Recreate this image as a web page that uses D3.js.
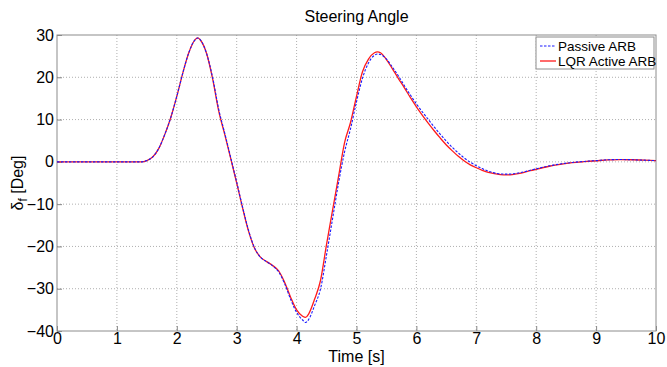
<!DOCTYPE html>
<html>
<head>
<meta charset="utf-8">
<script src="https://cdn.jsdelivr.net/npm/d3@7"></script>
<style>
  body { margin: 0; background: #fff; }
  text { font-family: "Liberation Sans", Arial, sans-serif; fill: #000; }
</style>
</head>
<body>
<svg id="chart"></svg>
<script>
// time samples [s]
var time = [0, 0.5, 1.0, 1.4, 1.5, 1.6, 1.7, 1.8, 1.9, 2.0, 2.1, 2.2, 2.3, 2.35, 2.4, 2.5,
    2.6, 2.7, 2.8, 2.9, 3.0, 3.1, 3.2, 3.3, 3.4, 3.5, 3.6, 3.7, 3.8, 3.9, 4.0, 4.1, 4.15,
    4.2, 4.3, 4.4, 4.5, 4.6, 4.7, 4.8, 4.9, 5.0, 5.1, 5.2, 5.3, 5.35, 5.4, 5.5, 5.6, 5.7,
    5.8, 5.9, 6.0, 6.1, 6.2, 6.3, 6.4, 6.5, 6.6, 6.7, 6.8, 6.9, 7.0, 7.1, 7.2, 7.3, 7.4,
    7.5, 7.6, 7.7, 7.8, 7.9, 8.0, 8.2, 8.4, 8.6, 8.8, 9.0, 9.2, 9.4, 9.6, 9.8, 10.0];

// steering angle [deg]
var passive = [0, 0, 0, 0, 0.3, 1.2, 3.2, 6.5, 10.5, 15.5, 21, 25.8, 28.8, 29.3, 28.7, 25.5,
    19.8, 12.4, 6.8, 1.0, -4.8, -10.8, -16.3, -20.4, -22.6, -23.6, -24.6, -26, -28.8, -32.5,
    -35.6, -37.4, -38, -37.3, -34, -30, -22, -13.5, -5, 2.3, 7.8, 14.2, 19.8, 23.4, 25.2,
    25.5, 25.4, 24.3, 22.4, 20.3, 18.0, 15.8, 13.7, 11.8, 10.0, 8.2, 6.5, 4.9, 3.4, 2.1,
    0.9, -0.1, -0.9, -1.6, -2.2, -2.6, -2.85, -2.9, -2.85, -2.65, -2.35, -2.0, -1.65, -1.0,
    -0.5, -0.15, 0.1, 0.3, 0.5, 0.55, 0.5, 0.4, 0.3];

var lqr = [0, 0, 0, 0, 0.3, 1.2, 3.2, 6.5, 10.5, 15.5, 21, 25.8, 28.8, 29.3, 28.7, 25.5,
    19.5, 12, 6.5, 0.8, -5, -11, -16.5, -20.5, -22.6, -23.6, -24.5, -25.8, -28.5, -32,
    -35, -36.5, -36.8, -36, -32.5, -28, -19.5, -11.5, -3.5, 4.5, 9.3, 15.5, 21.3, 24.3, 25.8,
    26, 25.8, 24.2, 22, 19.7, 17.5, 15.2, 13, 11, 9.1, 7.3, 5.6, 4.0, 2.6, 1.3,
    0.2, -0.7, -1.4, -2.0, -2.5, -2.8, -3.0, -3.1, -3.0, -2.8, -2.5, -2.1, -1.75, -1.1,
    -0.6, -0.2, 0.05, 0.25, 0.45, 0.55, 0.5, 0.4, 0.3];

var xTicks = [0, 1, 2, 3, 4, 5, 6, 7, 8, 9, 10];
var yTicks = [-40, -30, -20, -10, 0, 10, 20, 30];
var seriesNames = ["Passive ARB", "LQR Active ARB"];

var W = 667, H = 367;
var plotL = 57, plotR = 656, plotT = 35, plotB = 331;

var svg = d3.select("#chart").attr("width", W).attr("height", H);
svg.append("rect").attr("width", W).attr("height", H).attr("fill", "#fff");

var x = d3.scaleLinear().domain([0, 10]).range([plotL, plotR]);
var y = d3.scaleLinear().domain([-40, 30]).range([plotB, plotT]);

// grid
svg.append("g").selectAll("line").data(xTicks.slice(1, -1)).enter().append("line")
    .attr("x1", function (d) { return x(d); }).attr("x2", function (d) { return x(d); })
    .attr("y1", plotT).attr("y2", plotB)
    .attr("stroke", "#9a9a9a").attr("stroke-width", 0.8).attr("stroke-dasharray", "1,2");
svg.append("g").selectAll("line").data(yTicks.slice(1, -1)).enter().append("line")
    .attr("x1", plotL).attr("x2", plotR)
    .attr("y1", function (d) { return y(d); }).attr("y2", function (d) { return y(d); })
    .attr("stroke", "#9a9a9a").attr("stroke-width", 0.8).attr("stroke-dasharray", "1,2");

// axes
var xAxis = svg.append("g").attr("transform", "translate(0," + plotB + ")")
    .call(d3.axisBottom(x).tickValues(xTicks).tickSize(-5).tickPadding(3).tickFormat(d3.format("d")));
var yAxis = svg.append("g").attr("transform", "translate(" + plotL + ",0)")
    .call(d3.axisLeft(y).tickValues(yTicks).tickSize(-5).tickPadding(4).tickFormat(d3.format("d")));
[xAxis, yAxis].forEach(function (a) {
    a.select(".domain").remove();
    a.selectAll(".tick line").attr("stroke", "#888");
    a.selectAll(".tick text").style("font-size", "16px").style("font-family", "Liberation Sans, Arial, sans-serif").attr("fill", "#000");
});
xAxis.selectAll(".tick text").attr("dy", "0.62em");
yAxis.selectAll(".tick text").attr("dx", "1px");

// box
svg.append("rect").attr("x", plotL).attr("y", plotT)
    .attr("width", plotR - plotL).attr("height", plotB - plotT)
    .attr("fill", "none").attr("stroke", "#8c8c8c").attr("stroke-width", 1);

// lines
var line = d3.line()
    .x(function (d) { return x(d[0]); })
    .y(function (d) { return y(d[1]); })
    .curve(d3.curveMonotoneX);

svg.append("path").datum(time.map(function (t, i) { return [t, lqr[i]]; }))
    .attr("d", line).attr("fill", "none").attr("stroke", "#ff1a1a").attr("stroke-width", 1.3);
svg.append("path").datum(time.map(function (t, i) { return [t, passive[i]]; }))
    .attr("d", line).attr("fill", "none").attr("stroke", "#1a1aff").attr("stroke-width", 1.1)
    .attr("stroke-dasharray", "2.5,1.5");

// title and labels
svg.append("text").attr("x", (plotL + plotR) / 2).attr("y", 22).attr("text-anchor", "middle")
    .style("font-size", "16px").text("Steering Angle");
svg.append("text").attr("x", (plotL + plotR) / 2).attr("y", 362).attr("text-anchor", "middle")
    .style("font-size", "16px").text("Time [s]");
var yl = svg.append("text").attr("transform", "translate(23," + ((plotT + plotB) / 2) + ") rotate(-90)")
    .attr("text-anchor", "middle").style("font-size", "16px");
yl.append("tspan").text("δ");
yl.append("tspan").attr("dy", "4").style("font-size", "12px").text("f");
yl.append("tspan").attr("dy", "-4").text(" [Deg]");

// legend
var lg = svg.append("g").attr("transform", "translate(536,37)");
lg.append("rect").attr("width", 118).attr("height", 32)
    .attr("fill", "#fff").attr("stroke", "#8c8c8c").attr("stroke-width", 1);
var colors = ["#1a1aff", "#ff1a1a"];
var dashes = ["2.5,1.5", null];
seriesNames.forEach(function (name, i) {
    var yy = 9 + i * 15;
    lg.append("line").attr("x1", 4).attr("x2", 20).attr("y1", yy).attr("y2", yy)
        .attr("stroke", colors[i]).attr("stroke-width", i ? 1.3 : 1.1)
        .attr("stroke-dasharray", dashes[i]);
    lg.append("text").attr("x", 22).attr("y", yy + 5).style("font-size", "13.5px").text(name);
});
</script>
</body>
</html>
